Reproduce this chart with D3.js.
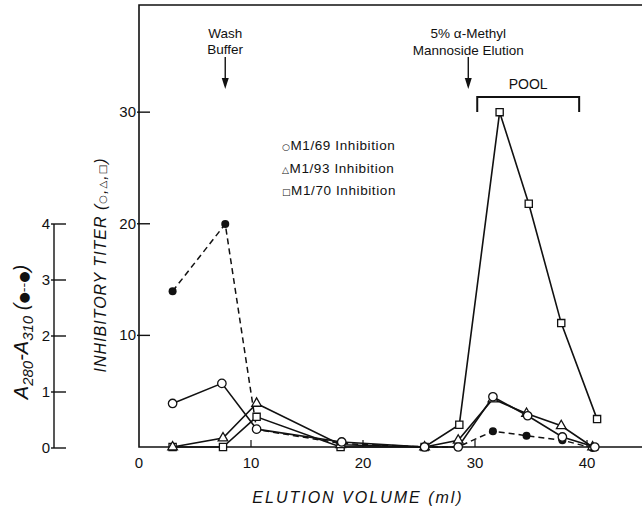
<!DOCTYPE html>
<html>
<head>
<meta charset="utf-8">
<script src="https://cdn.jsdelivr.net/npm/d3@7"></script>
<style>
  body { margin: 0; background: #fff; }
  text { font-family: "Liberation Sans", Arial, sans-serif; fill: #111; }
  .sym { font-family: "DejaVu Sans", sans-serif; }
</style>
</head>
<body>
<svg id="chart" width="642" height="507"></svg>
<script>
// elution volume (ml) and titer, one pair of arrays per series
const m69Vol = [3, 7.4, 10.5, 18.1, 25.5, 28.5, 31.6, 34.7, 37.8, 40.7];
const m69Titer = [3.9, 5.7, 1.6, 0.45, 0, 0, 4.5, 2.8, 0.9, 0];
const m93Vol = [3, 7.5, 10.5, 18, 25.5, 28.5, 31.6, 34.6, 37.7, 40.5];
const m93Titer = [0, 0.8, 3.9, 0.2, 0, 0.6, 4.3, 3.0, 1.9, 0];
const m70Vol = [3, 7.5, 10.5, 18, 25.5, 28.6, 32.2, 34.8, 37.7, 40.9];
const m70Titer = [0, 0, 2.7, 0, 0, 2.0, 30, 21.8, 11.1, 2.5];
// A280 - A310 (filled circles, dashed)
const absVol = [3, 7.7, 10.5, 18.1, 25.5, 28.5, 31.6, 34.6, 37.8, 40.5];
const absValue = [2.8, 4.0, 0.33, 0.08, 0.02, 0.02, 0.3, 0.22, 0.14, 0];

const xTicks = [0, 10, 20, 30, 40];
const titerTicks = [10, 20, 30];
const absTicks = [0, 1, 2, 3, 4];
const legendSymbols = ["\u25CB", "\u25B3", "\u25A1"];
const legendLabels = ["M1/69 Inhibition", "M1/93 Inhibition", "M1/70 Inhibition"];

const washArrowAt = 7.7;
const elutionArrowAt = 29.4;
const poolRange = [30.2, 39.3];

const svg = d3.select("#chart");

const x = d3.scaleLinear().domain([0, 45]).range([139, 643]);
const y = d3.scaleLinear().domain([0, 39.6]).range([447, 5]);
const yAbs = d3.scaleLinear().domain([0, 4]).range([448, 224]);

// frame: left axis, top line, bottom axis (right side is cut off)
svg.append("path")
  .attr("d", `M${x(45)},${y(39.6)}H${x(0)}V${y(0)}H${x(45)}`)
  .attr("fill", "none")
  .attr("stroke", "#111")
  .attr("stroke-width", 1.6);

// x ticks
const xg = svg.append("g");
xg.selectAll("line")
  .data(xTicks.filter(d => d > 0))
  .enter().append("line")
  .attr("x1", d => x(d)).attr("x2", d => x(d))
  .attr("y1", y(0)).attr("y2", y(0) - 7)
  .attr("stroke", "#111").attr("stroke-width", 1.2);
xg.selectAll("text")
  .data(xTicks)
  .enter().append("text")
  .attr("x", d => x(d))
  .attr("y", 468)
  .attr("text-anchor", "middle")
  .attr("font-size", "15px")
  .text(d => d);

svg.append("text")
  .attr("x", 358)
  .attr("y", 503)
  .attr("text-anchor", "middle")
  .attr("font-size", "16px")
  .attr("font-style", "italic")
  .attr("letter-spacing", "2px")
  .text("ELUTION  VOLUME (ml)");

// titer ticks
const yg = svg.append("g");
yg.selectAll("line")
  .data(titerTicks)
  .enter().append("line")
  .attr("x1", x(0) - 2).attr("x2", x(0) + 11)
  .attr("y1", d => y(d)).attr("y2", d => y(d))
  .attr("stroke", "#111").attr("stroke-width", 1.4);
yg.selectAll("text")
  .data(titerTicks)
  .enter().append("text")
  .attr("x", x(0) - 3)
  .attr("y", d => y(d) + 5)
  .attr("text-anchor", "end")
  .attr("font-size", "15px")
  .text(d => d);

const titerLabel = svg.append("text")
  .attr("transform", "translate(106,265) rotate(-90)")
  .attr("text-anchor", "middle")
  .attr("font-size", "16px")
  .attr("font-style", "italic")
  .attr("letter-spacing", "1px");
titerLabel.append("tspan").text("INHIBITORY TITER (");
legendSymbols.forEach((s, i) => {
  titerLabel.append("tspan").attr("class", "sym").attr("font-size", "10px").attr("font-style", "normal").text(s);
  if (i < legendSymbols.length - 1) titerLabel.append("tspan").text(",");
});
titerLabel.append("tspan").text(")");

// secondary absorbance axis
const absX = 54;
svg.append("line")
  .attr("x1", absX).attr("x2", absX)
  .attr("y1", yAbs(4)).attr("y2", yAbs(0))
  .attr("stroke", "#111").attr("stroke-width", 1.4);
const ag = svg.append("g");
ag.selectAll("line")
  .data(absTicks)
  .enter().append("line")
  .attr("x1", absX - 3).attr("x2", absX + 12)
  .attr("y1", d => yAbs(d)).attr("y2", d => yAbs(d))
  .attr("stroke", "#111").attr("stroke-width", 1.4);
ag.selectAll("text")
  .data(absTicks)
  .enter().append("text")
  .attr("x", absX - 4)
  .attr("y", d => yAbs(d) + 5)
  .attr("text-anchor", "end")
  .attr("font-size", "15px")
  .text(d => d);

const absLabel = svg.append("text")
  .attr("transform", "translate(28,332) rotate(-90)")
  .attr("text-anchor", "middle")
  .attr("font-size", "20px")
  .attr("font-style", "italic");
absLabel.append("tspan").text("A");
absLabel.append("tspan").attr("font-size", "15px").attr("dy", 5).text("280");
absLabel.append("tspan").attr("dy", -5).text("-A");
absLabel.append("tspan").attr("font-size", "15px").attr("dy", 5).text("310");
absLabel.append("tspan").attr("dy", -5).text(" (");
absLabel.append("tspan").attr("class", "sym").attr("font-size", "13px").attr("font-style", "normal").text("\u25CF--\u25CF");
absLabel.append("tspan").text(")");

// absorbance series, dashed with filled circles
const absPts = absVol.map((v, i) => [x(v), yAbs(absValue[i])]);
svg.append("path")
  .attr("d", d3.line()(absPts))
  .attr("fill", "none")
  .attr("stroke", "#111")
  .attr("stroke-width", 1.5)
  .attr("stroke-dasharray", "6,4");
svg.append("g").selectAll("circle")
  .data(absPts)
  .enter().append("circle")
  .attr("cx", d => d[0]).attr("cy", d => d[1])
  .attr("r", 4)
  .attr("fill", "#111");

// titer series
const series = [
  { vol: m70Vol, val: m70Titer, shape: d3.symbolSquare, size: 52 },
  { vol: m93Vol, val: m93Titer, shape: d3.symbolTriangle, size: 40 },
  { vol: m69Vol, val: m69Titer, shape: d3.symbolCircle, size: 56 }
];
series.forEach(s => {
  const pts = s.vol.map((v, i) => [x(v), y(s.val[i])]);
  svg.append("path")
    .attr("d", d3.line()(pts))
    .attr("fill", "none")
    .attr("stroke", "#111")
    .attr("stroke-width", 1.6);
});
series.forEach(s => {
  const pts = s.vol.map((v, i) => [x(v), y(s.val[i])]);
  svg.append("g").selectAll("path")
    .data(pts)
    .enter().append("path")
    .attr("transform", d => `translate(${d[0]},${d[1]})`)
    .attr("d", d3.symbol().type(s.shape).size(s.size))
    .attr("fill", "#fff")
    .attr("stroke", "#111")
    .attr("stroke-width", 1.3);
});

// legend
const legend = svg.append("g").selectAll("text")
  .data(legendLabels)
  .enter().append("text")
  .attr("x", 282)
  .attr("y", (d, i) => 150 + i * 22.5)
  .attr("font-size", "13.5px")
  .attr("letter-spacing", "0.6px");
legend.append("tspan").attr("class", "sym").attr("font-size", "9px").text((d, i) => legendSymbols[i]);
legend.append("tspan").text(d => d);

// annotations
function arrow(ml) {
  const ax = x(ml);
  svg.append("line")
    .attr("x1", ax).attr("x2", ax)
    .attr("y1", 57).attr("y2", 86)
    .attr("stroke", "#111").attr("stroke-width", 1.4);
  svg.append("path")
    .attr("d", `M${ax - 3.5},${78}L${ax},${89}L${ax + 3.5},${78}Z`)
    .attr("fill", "#111");
}
arrow(washArrowAt);
arrow(elutionArrowAt);

svg.append("text").attr("x", x(washArrowAt)).attr("y", 38)
  .attr("text-anchor", "middle").attr("font-size", "13.5px").text("Wash");
svg.append("text").attr("x", x(washArrowAt)).attr("y", 54)
  .attr("text-anchor", "middle").attr("font-size", "13.5px").text("Buffer");
svg.append("text").attr("x", x(elutionArrowAt)).attr("y", 38)
  .attr("text-anchor", "middle").attr("font-size", "13.5px").text("5% \u03B1-Methyl");
svg.append("text").attr("x", x(elutionArrowAt)).attr("y", 55)
  .attr("text-anchor", "middle").attr("font-size", "13.5px").text("Mannoside Elution");

// pool bracket
svg.append("path")
  .attr("d", `M${x(poolRange[0])},112V97H${x(poolRange[1])}V112`)
  .attr("fill", "none")
  .attr("stroke", "#111")
  .attr("stroke-width", 2);
svg.append("text")
  .attr("x", x((poolRange[0] + poolRange[1]) / 2))
  .attr("y", 89)
  .attr("text-anchor", "middle")
  .attr("font-size", "14px")
  .text("POOL");
</script>
</body>
</html>
